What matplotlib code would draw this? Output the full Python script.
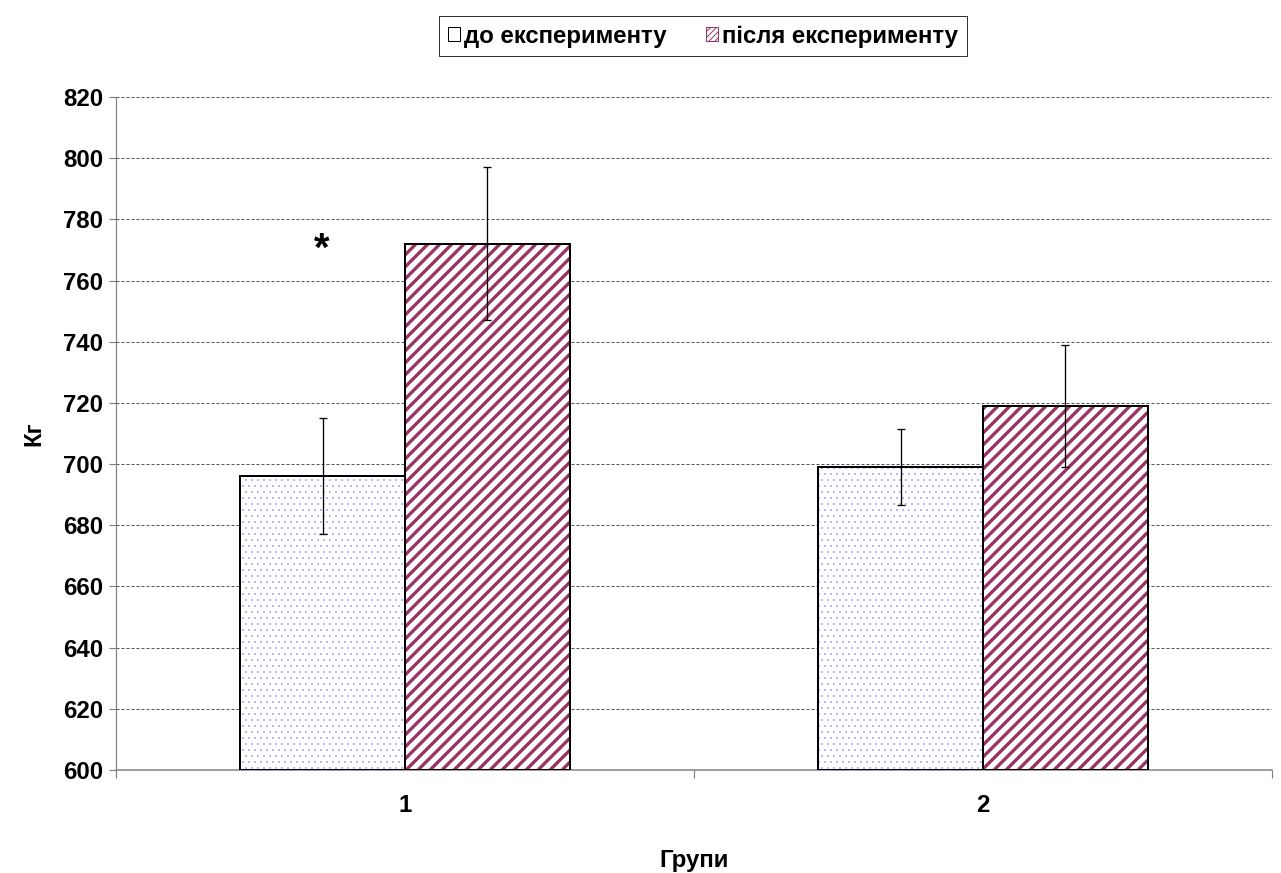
import matplotlib
matplotlib.use("Agg")
import matplotlib.pyplot as plt
import numpy as np
from matplotlib.patches import Patch

# дані
groups = ["1", "2"]
series = ["до експерименту", "після експерименту"]
before = [696, 699]
before_err = [19, 12.5]
after = [772, 719]
after_err = [25, 20]

plt.rcParams['font.family'] = ['Liberation Sans', 'DejaVu Sans']
plt.rcParams['font.weight'] = 'bold'

# dpi 72: 1 pt = 1 px, зручно для штрихування
fig = plt.figure(figsize=(1281 / 72, 873 / 72), dpi=72)
ax = fig.add_axes([116 / 1281, 1 - 770 / 873, 1156 / 1281, 673 / 873])

x = np.arange(len(groups))
w = 0.285
stripe = '#993366'
dots = '#9999FF'
fs = 24

ax.set_axisbelow(True)
ax.yaxis.grid(True, linestyle=(0, (3, 2)), color='#555555', linewidth=1)

with plt.rc_context({'hatch.linewidth': 0.6}):
    ax.bar(x - w / 2, np.array(before) - 600, w, bottom=600, color='white',
           edgecolor=dots, hatch='..', linewidth=0, zorder=2)
with plt.rc_context({'hatch.linewidth': 3.3}):
    ax.bar(x + w / 2, np.array(after) - 600, w, bottom=600, color='white',
           edgecolor=stripe, hatch='//', linewidth=0, zorder=2)

# контури
ax.bar(x - w / 2, np.array(before) - 600, w, bottom=600, fill=False,
       edgecolor='black', linewidth=2, zorder=3)
ax.bar(x + w / 2, np.array(after) - 600, w, bottom=600, fill=False,
       edgecolor='black', linewidth=2, zorder=3)

ax.errorbar(x - w / 2, before, yerr=before_err, fmt='none', ecolor='black',
            elinewidth=1.3, capsize=4, capthick=1.3, zorder=4)
ax.errorbar(x + w / 2, after, yerr=after_err, fmt='none', ecolor='black',
            elinewidth=1.3, capsize=4, capthick=1.3, zorder=4)

ax.text(x[0] - 0.145, after[0] - 2, '*', ha='center', va='center',
        fontsize=40, fontweight='bold')

ax.set_xlim(-0.5, 1.5)
ax.set_ylim(600, 820)
ax.set_yticks(np.arange(600, 821, 20))
ax.set_xticks(x)
ax.set_xticklabels(groups)
ax.set_xticks([-0.5, 0.5, 1.5], minor=True)
ax.tick_params(axis='x', which='major', length=0, pad=24, labelsize=fs)
ax.tick_params(axis='x', which='minor', length=8, color='#808080', width=1.2)
ax.tick_params(axis='y', length=7, color='#808080', width=1.2, labelsize=fs, pad=6)

for s in ['top', 'right']:
    ax.spines[s].set_visible(False)
ax.spines['left'].set_color('#808080')
ax.spines['left'].set_linewidth(1.2)
ax.spines['bottom'].set_color('#808080')
ax.spines['bottom'].set_linewidth(1.5)

ax.set_ylabel('Кг', fontsize=fs, fontweight='bold', labelpad=18)
ax.set_xlabel('Групи', fontsize=fs, fontweight='bold', labelpad=32)

handles = [Patch(facecolor='white', edgecolor='black', linewidth=1),
           Patch(facecolor='white', edgecolor=stripe, hatch='////', linewidth=1)]
leg = fig.legend(handles, series, loc='center', bbox_to_anchor=(703 / 1281, 1 - 36 / 873),
                 ncol=2, frameon=True, fancybox=False, fontsize=fs,
                 handlelength=0.5, handleheight=0.5, handletextpad=0.2,
                 columnspacing=1.6, borderpad=0.35, borderaxespad=0)
leg.get_frame().set_edgecolor('black')
leg.get_frame().set_linewidth(1)

fig.savefig('out.png', dpi=72)
